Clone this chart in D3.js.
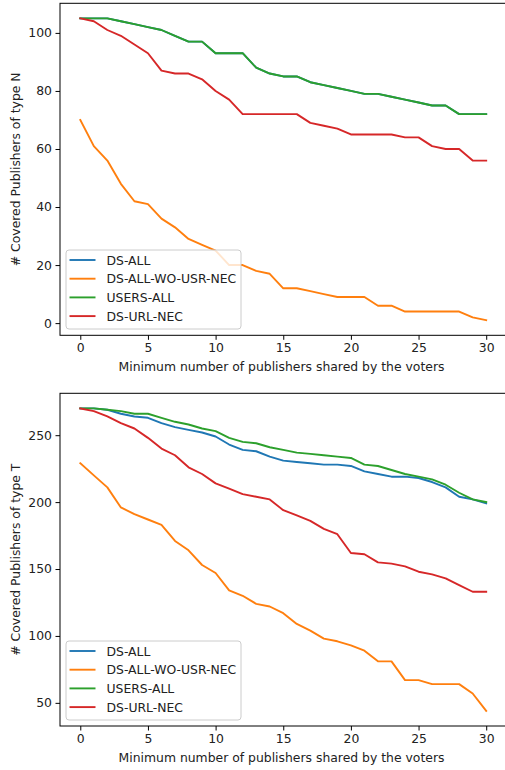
<!DOCTYPE html>
<html>
<head>
<meta charset="utf-8">
<script src="https://cdn.jsdelivr.net/npm/d3@7"></script>
<style>
  html, body { margin: 0; padding: 0; background: #fff; }
  svg { display: block; font-family: "DejaVu Sans", sans-serif; }
</style>
</head>
<body>
<svg id="chart" width="505" height="770"></svg>
<script>
// ---------- data ----------
const xValues = d3.range(0, 31);
const xTicks = [0, 5, 10, 15, 20, 25, 30];
const seriesNames = ["DS-ALL", "DS-ALL-WO-USR-NEC", "USERS-ALL", "DS-URL-NEC"];
const seriesColors = ["#1f77b4", "#ff7f0e", "#2ca02c", "#d62728"];

// Top panel: type N
const nDsAll      = [105,105,105,104,103,102,101,99,97,97,93,93,93,88,86,85,85,83,82,81,80,79,79,78,77,76,75,75,72,72,72];
const nDsAllWoUsr = [70,61,56,48,42,41,36,33,29,27,25,20,20,18,17,12,12,11,10,9,9,9,6,6,4,4,4,4,4,2,1];
const nUsersAll   = [105,105,105,104,103,102,101,99,97,97,93,93,93,88,86,85,85,83,82,81,80,79,79,78,77,76,75,75,72,72,72];
const nDsUrlNec   = [105,104,101,99,96,93,87,86,86,84,80,77,72,72,72,72,72,69,68,67,65,65,65,65,64,64,61,60,60,56,56];
const nTicks = [0, 20, 40, 60, 80, 100];

// Bottom panel: type T
const tDsAll      = [270,270,269,266,264,263,259,256,254,252,249,243,239,238,234,231,230,229,228,228,227,223,221,219,219,218,215,211,204,202,199];
const tDsAllWoUsr = [229,220,211,196,191,187,183,171,164,153,147,134,130,124,122,117,109,104,98,96,93,89,81,81,67,67,64,64,64,57,44];
const tUsersAll   = [270,270,269,268,266,266,263,260,258,255,253,248,245,244,241,239,237,236,235,234,233,228,227,224,221,219,217,213,207,202,200];
const tDsUrlNec   = [270,268,264,259,255,248,240,235,226,221,214,210,206,204,202,194,190,186,180,176,162,161,155,154,152,148,146,143,138,133,133];
const tTicks = [50, 100, 150, 200, 250];

const xLabel = "Minimum number of publishers shared by the voters";

const panels = [
  { series: [nDsAll, nDsAllWoUsr, nUsersAll, nDsUrlNec], yTicks: nTicks,
    yLabel: "# Covered Publishers of type N", top: 3.3, bottom: 335.3, legendTop: 250 },
  { series: [tDsAll, tDsAllWoUsr, tUsersAll, tDsUrlNec], yTicks: tTicks,
    yLabel: "# Covered Publishers of type T", top: 393.3, bottom: 726, legendTop: 641 }
];

const svg = d3.select("#chart");
const left = 60, right = 506.5;
const FS = 12.4;

function padded(min, max) {
  const m = (max - min) * 0.05;
  return [min - m, max + m];
}

const x = d3.scaleLinear().domain(padded(0, 30)).range([left, right]);

panels.forEach(p => {
  const all = p.series.flat();
  const y = d3.scaleLinear().domain(padded(d3.min(all), d3.max(all))).range([p.bottom, p.top]);
  const g = svg.append("g");

  // lines
  const line = d3.line().x((d, i) => x(xValues[i])).y(d => y(d));
  p.series.forEach((s, k) => {
    g.append("path").datum(s)
      .attr("fill", "none")
      .attr("stroke", seriesColors[k])
      .attr("stroke-width", 1.9)
      .attr("stroke-linejoin", "round")
      .attr("stroke-linecap", "square")
      .attr("d", line);
  });

  // spines
  g.append("rect")
    .attr("x", left).attr("y", p.top)
    .attr("width", right - left).attr("height", p.bottom - p.top)
    .attr("fill", "none").attr("stroke", "#000").attr("stroke-width", 1);

  // axes
  const xAxis = d3.axisBottom(x).tickValues(xTicks).tickSize(4.5).tickPadding(3.5).tickFormat(d3.format("d"));
  const gx = g.append("g").attr("transform", `translate(0,${p.bottom})`).call(xAxis);
  const yAxis = d3.axisLeft(y).tickValues(p.yTicks).tickSize(4.5).tickPadding(3.5).tickFormat(d3.format("d"));
  const gy = g.append("g").attr("transform", `translate(${left},0)`).call(yAxis);
  [gx, gy].forEach(a => {
    a.select(".domain").remove();
    a.selectAll("text").attr("font-size", FS).attr("font-family", "DejaVu Sans").attr("fill", "#222");
    a.selectAll("line").attr("stroke", "#000").attr("stroke-width", 1);
  });

  // axis labels
  g.append("text")
    .attr("x", (left + 505) / 2 - 1).attr("y", p.bottom + 31)
    .attr("dominant-baseline", "central")
    .attr("text-anchor", "middle").attr("font-size", FS).attr("fill", "#222")
    .text(xLabel);
  g.append("text")
    .attr("transform", `translate(15,${(p.top + p.bottom) / 2}) rotate(-90)`)
    .attr("dominant-baseline", "central")
    .attr("text-anchor", "middle").attr("font-size", FS).attr("fill", "#222")
    .text(p.yLabel);

  // legend
  const lg = g.append("g");
  lg.append("rect")
    .attr("x", 66).attr("y", p.legendTop)
    .attr("width", 175).attr("height", 79)
    .attr("rx", 3).attr("ry", 3)
    .attr("fill", "#fff").attr("fill-opacity", 0.8)
    .attr("stroke", "#cccccc").attr("stroke-width", 1);
  seriesNames.forEach((name, k) => {
    const yy = p.legendTop + 10 + k * 18.7;
    lg.append("line")
      .attr("x1", 69.5).attr("x2", 95.5).attr("y1", yy).attr("y2", yy)
      .attr("stroke", seriesColors[k]).attr("stroke-width", 1.9);
    lg.append("text")
      .attr("x", 106.5).attr("y", yy)
      .attr("dominant-baseline", "central")
      .attr("font-size", FS).attr("fill", "#222")
      .text(name);
  });
});
</script>
</body>
</html>
